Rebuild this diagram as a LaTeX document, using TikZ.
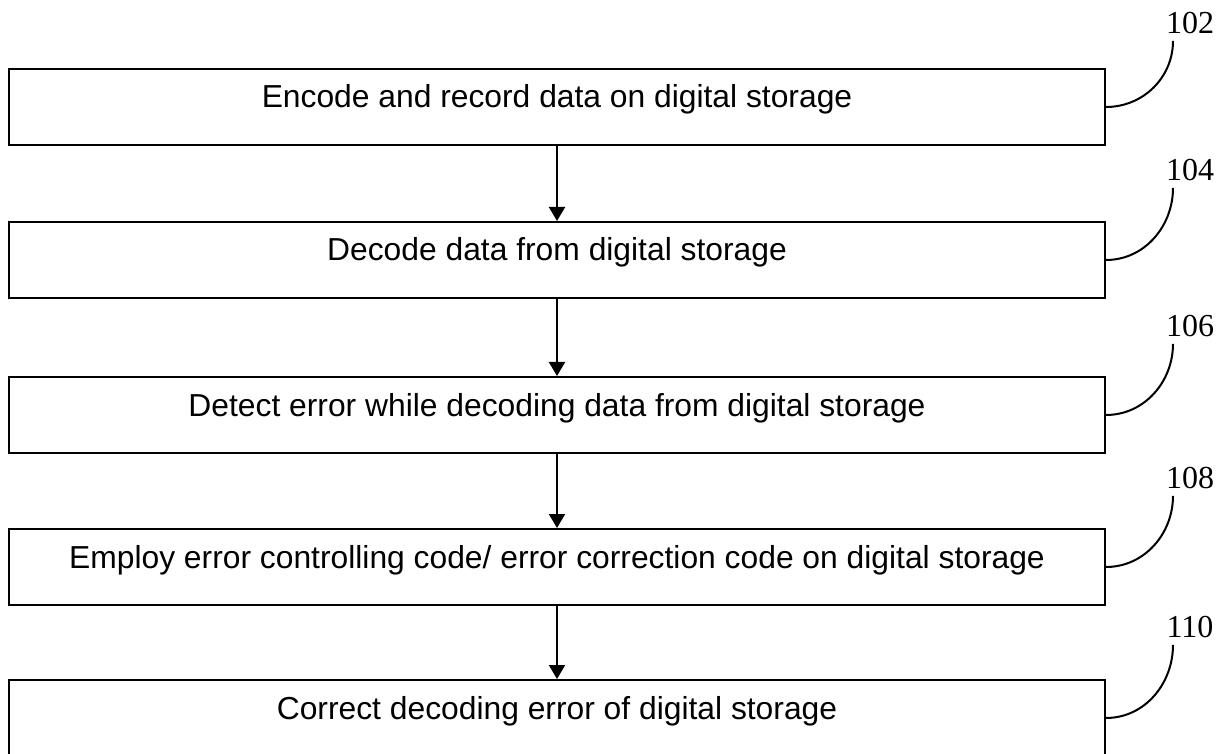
\documentclass[tikz,border=0pt]{standalone}
\usepackage{fontspec}
\setmainfont{Liberation Sans}
\newfontfamily\refnumfont{Liberation Serif}
\usetikzlibrary{arrows.meta, positioning}

\begin{document}
\begin{tikzpicture}[
  x=0.5pt, y=0.5pt,
  stepbox/.style={rectangle, draw, line width=1pt, minimum width=548pt,
                  minimum height=38pt, inner sep=0pt,
                  text height=11pt, text depth=10pt,
                  font=\fontsize{15.9}{18}\selectfont},
  refnum/.style={font=\refnumfont\fontsize{16}{18}\selectfont},
  flow/.style={-{Triangle[width=8pt,length=7pt]}, line width=1pt},
  lead/.style={line width=1pt}
]
\useasboundingbox (0,0) rectangle (1227,-754);
% process steps
\node[stepbox] (s1) at (557,-107) {Encode and record data on digital storage};
\node[stepbox] (s2) at (557,-260) {Decode data from digital storage};
\node[stepbox] (s3) at (557,-415) {Detect error while decoding data from digital storage};
\node[stepbox] (s4) at (557,-567) {Employ error controlling code/ error correction code on digital storage};
\node[stepbox] (s5) at (557,-718) {Correct decoding error of digital storage};
% reference numerals
\node[refnum] (r1) at (1190,-23)  {102};
\node[refnum] (r2) at (1190,-170) {104};
\node[refnum] (r3) at (1190,-326) {106};
\node[refnum] (r4) at (1190,-478) {108};
\node[refnum] (r5) at (1190,-627) {110};
% flow between steps
\draw[flow] (s1) -- (s2);
\draw[flow] (s2) -- (s3);
\draw[flow] (s3) -- (s4);
\draw[flow] (s4) -- (s5);
% lead lines from numerals to steps
\draw[lead] (s1.east) to[out=0,in=-90] ([xshift=-8.5pt]r1.south);
\draw[lead] (s2.east) to[out=0,in=-90] ([xshift=-8.5pt]r2.south);
\draw[lead] (s3.east) to[out=0,in=-90] ([xshift=-8.5pt]r3.south);
\draw[lead] (s4.east) to[out=0,in=-90] ([xshift=-8.5pt]r4.south);
\draw[lead] (s5.east) to[out=0,in=-90] ([xshift=-8.5pt]r5.south);
\end{tikzpicture}
\end{document}
